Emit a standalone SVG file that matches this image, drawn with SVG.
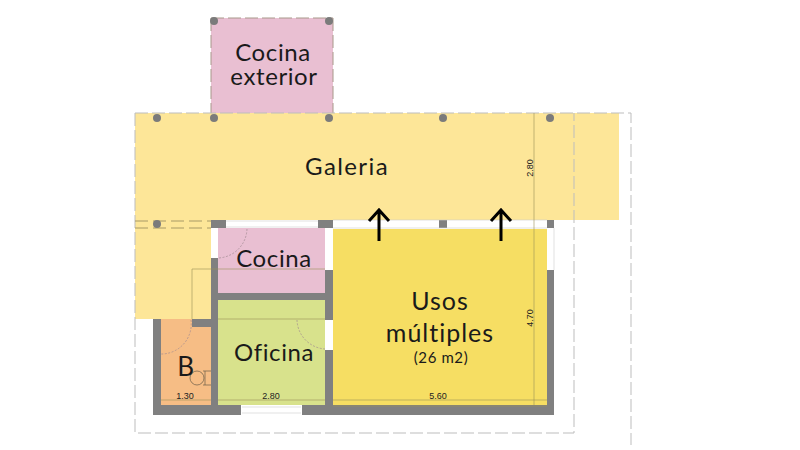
<svg xmlns="http://www.w3.org/2000/svg" width="800" height="450" viewBox="0 0 800 450">
<style>
.t{font-family:"Lato","Noto Sans",sans-serif;fill:#1a1a1a;text-anchor:middle;letter-spacing:.6px;font-size:24px}
.d{font-family:"Liberation Sans",sans-serif;font-size:9px;fill:#222;text-anchor:middle}
.w{fill:#808080}
.dash{fill:none;stroke:#bdbdbd;stroke-width:1;stroke-dasharray:13 4}
.dash2{fill:none;stroke:#a89a66;stroke-width:1;stroke-dasharray:13 5}
.dash3{fill:none;stroke:#a8988a;stroke-width:1;stroke-dasharray:13 4}
.dim{fill:none;stroke:#9c9258;stroke-width:.6}
.win{fill:none;stroke:#cfcfcf;stroke-width:.6}
.door{fill:none;stroke:#a08a90;stroke-width:.7;stroke-dasharray:2 1.5}
.c{fill:#7b7b7b}
</style>
<rect width="800" height="450" fill="#fff"/>
<g id="areas">
<rect x="211" y="18" width="122" height="95" fill="#e9bfd2"/>
<rect x="135" y="113" width="484" height="107" fill="#fde698"/>
<rect x="135" y="220" width="76" height="99" fill="#fde698"/>
<rect x="218" y="228" width="107" height="65" fill="#e9bfd2"/>
<rect x="218" y="300" width="107" height="105" fill="#d8e28c"/>
<rect x="333" y="229" width="214" height="176" fill="#f6de63"/>
<rect x="161" y="319" width="50" height="86" fill="#f6bd85"/>
</g>
<g id="walls">
<rect class="w" x="211" y="220" width="15" height="8"/>
<rect class="w" x="318" y="220" width="15" height="8"/>
<rect class="w" x="439" y="220" width="8" height="8"/>
<rect class="w" x="547" y="220" width="7" height="8"/>
<rect class="w" x="211" y="258" width="7" height="157"/>
<rect class="w" x="325" y="270" width="8" height="50"/>
<rect class="w" x="325" y="350" width="8" height="65"/>
<rect class="w" x="211" y="293" width="122" height="7"/>
<rect class="w" x="153" y="319" width="8" height="96"/>
<rect class="w" x="192" y="319" width="19" height="8"/>
<rect class="w" x="153" y="405" width="88" height="10"/>
<rect class="w" x="302" y="405" width="252" height="10"/>
<rect class="w" x="547" y="270" width="7" height="145"/>
</g>
<g id="connectors">
<path class="dash3" d="M211 18H333M211 18V113M333 18V113"/>
<path class="dash" d="M135 113H631V445M135 113V433H574V113"/>
<path class="dash2" d="M135 221H211M135 228H211"/>
<path class="win" d="M226 221H318M226 227H318M333 220H547M333 228H547M242 407H301M242 413H301M554 228V270"/>
<path class="dim" d="M161 400H211M218 400H325M333 400H547M534 113V405M333 406H547"/>
<path class="dim" d="M192 319V269H325M218 319H325"/>
<path class="door" d="M247 229A30 30 0 0 1 218 258M297 320A30 30 0 0 0 325 349M191 320A30 30 0 0 1 161 354"/>
<path fill="none" stroke="#000" stroke-width="3" d="M379 241V210M369 221L379 210L389 221M501 241V210M491 221L501 210L511 221"/>
</g>
<g id="columns">
<circle class="c" cx="214" cy="21" r="4"/><circle class="c" cx="329" cy="21" r="4"/>
<circle class="c" cx="157" cy="118" r="4"/><circle class="c" cx="214" cy="118" r="4"/><circle class="c" cx="329" cy="118" r="4"/><circle class="c" cx="443" cy="118" r="4"/><circle class="c" cx="550" cy="118" r="4"/><circle class="c" cx="157" cy="224" r="4"/>
</g>
<g id="toilet" fill="none" stroke="#6a5c48" stroke-width=".7"><circle cx="197" cy="378" r="7"/><path d="M203 371H211M203 385H211M205 371V385"/></g>
<g id="labels">
<text class="t"><tspan x="273" y="61">Cocina</tspan><tspan x="274" y="85">exterior</tspan></text>
<text class="t" x="347" y="175" style="letter-spacing:1.4px">Galeria</text>
<text class="t" x="274" y="267">Cocina</text>
<text class="t" x="274" y="361">Oficina</text>
<text class="t" x="186" y="376" style="font-size:26px">B</text>
<text class="t" style="font-size:25px;letter-spacing:1px"><tspan x="440" y="310">Usos</tspan><tspan x="440" y="342">múltiples</tspan></text>
<text class="t" x="441" y="363" style="font-size:15px">(26 m2)</text>
<text class="d" x="185" y="399">1.30</text>
<text class="d" x="271" y="399">2.80</text>
<text class="d" x="438" y="399">5.60</text>
<text class="d" transform="translate(533 168) rotate(-90)">2.80</text>
<text class="d" transform="translate(533 318) rotate(-90)">4.70</text>
</g>
</svg>
